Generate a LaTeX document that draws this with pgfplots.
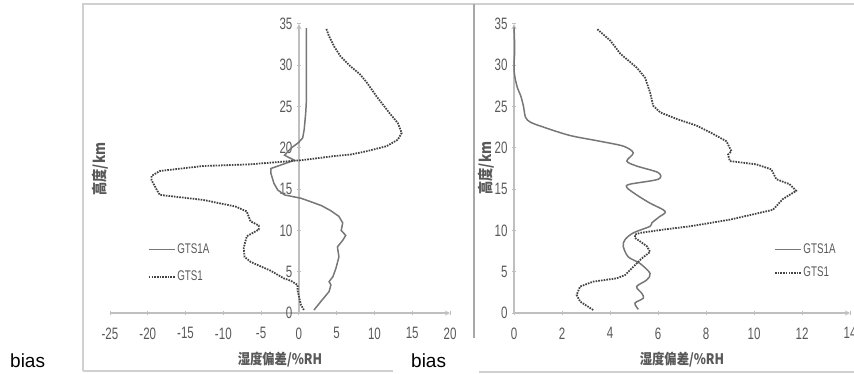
\documentclass[border=0pt]{standalone}
\usepackage{pgfplots}
\pgfplotsset{compat=1.18}
\usepackage{fontspec}
\setmainfont{Liberation Sans}
\newfontfamily\tickfont{Liberation Sans}[FakeStretch=0.7]
\newfontfamily\cjk{Noto Sans CJK SC}[FakeStretch=0.85]
\definecolor{tickgray}{HTML}{595959}
\definecolor{axgray}{HTML}{BFBFBF}
\definecolor{solidgray}{HTML}{777777}
\definecolor{dotgray}{HTML}{444444}
\definecolor{framegray}{HTML}{D0D0D0}
\definecolor{sepgray}{HTML}{A8A8A8}

\pgfplotstableread{
x y
2.0 0.36
3.0 1.5
4.0 2.6
4.24 3.4
4.0 3.8
4.5 4.4
4.9 5.4
5.3 6.8
5.1 8.0
5.8 8.8
6.2 9.4
5.6 10.0
5.8 10.9
5.3 11.7
4.2 12.4
3.0 13.0
1.5 13.5
0.26 13.9
-1.9 14.3
-2.8 14.9
-3.3 15.7
-3.7 16.9
-3.7 17.5
-0.6 18.5
-1.9 19.1
-1.5 19.5
-1.0 20.0
-0.1 20.6
0.5 21.2
0.7 22.2
0.9 24.2
1.0 25.8
1.0 29.8
1.0 34.5
}\leftA

\pgfplotstableread{
x y
0.66 0.36
0.26 1.0
-0.17 2.7
-0.17 3.4
-1.06 3.9
-2.0 4.2
-3.7 5.1
-6.4 6.2
-7.2 6.8
-7.3 7.9
-6.9 9.3
-5.3 10.1
-5.3 10.6
-6.4 11.1
-6.9 12.3
-8.4 12.9
-12.7 13.7
-18.4 14.3
-18.8 14.9
-19.5 16.1
-19.5 16.6
-18.4 17.2
-12.7 17.8
-6.6 18.0
0.3 18.5
4.65 19.0
6.9 19.2
9.0 19.6
11.6 20.2
13.1 21.0
13.6 21.8
13.1 23.0
12.0 24.2
10.3 26.2
9.0 27.9
8.1 28.9
6.8 29.9
5.5 31.1
4.65 32.3
4.0 33.5
3.6 34.5
}\leftB

\pgfplotstableread{
x y
5.18 0.45
5.04 1.2
5.39 1.8
5.32 2.4
5.11 3.2
5.53 4.0
5.67 4.8
5.25 6.0
4.76 6.8
4.55 8.1
4.63 8.9
4.97 9.7
5.67 10.5
5.74 10.9
6.08 11.7
6.29 12.1
6.22 12.5
5.67 13.3
5.11 14.3
4.70 15.2
4.83 15.6
6.01 16.2
6.01 17.0
5.11 17.8
4.70 18.4
4.97 19.4
4.56 20.2
3.58 20.8
2.33 21.5
1.24 22.5
0.69 23.1
0.48 23.7
0.39 25.1
0.28 26.3
0.14 27.3
0.03 28.7
0.0 29.9
0.03 32.0
0.0 34.6
}\rightA

\pgfplotstableread{
x y
3.30 0.36
2.75 1.4
2.61 2.2
2.75 3.2
3.30 3.8
4.28 4.2
4.63 4.6
4.97 5.6
5.32 6.6
5.67 7.4
5.53 8.1
5.04 9.1
5.04 9.5
5.25 9.7
6.22 10.1
7.33 10.5
8.99 11.3
10.79 12.5
11.2 13.8
11.76 14.8
11.48 15.6
10.93 16.2
10.72 17.4
10.1 18.0
8.99 18.4
8.92 19.2
9.06 19.6
8.85 20.8
8.16 21.9
7.6 22.7
6.78 23.5
6.09 24.3
5.8 25.1
5.67 26.7
5.46 28.5
5.12 29.7
4.43 31.4
4.01 33.0
3.46 34.4
}\rightB

\pgfplotsset{
  panel/.style={
    scale only axis,
    height=289pt,
    ymin=0, ymax=35,
    ytick={0,5,...,35},
    axis line style={-, draw=axgray, line width=1.3pt},
    xtick style={draw=axgray, line width=1pt},
    ytick style={draw=axgray, line width=1pt},
    xtick align=inside,
    ytick align=outside,
    major tick length=4pt,
    hide obscured x ticks=false,
    hide obscured y ticks=false,
    /pgf/number format/assume math mode=true,
    ticklabel style={font=\tickfont\fontsize{16.5}{16.5}\selectfont, text=tickgray},
    xticklabel style={yshift=-9pt},
    yticklabel style={xshift=-1pt},
    clip=false,
    legend cell align=left,
    legend image code/.code={\draw[##1] (0pt,0pt) -- (26pt,0pt);},
  },
  gA/.style={solidgray, line width=1.5pt},
  gB/.style={dotgray, line width=1.8pt, dash pattern=on 1.6pt off 1.1pt},
}

\begin{document}
\begin{tikzpicture}
\path[use as bounding box] (0pt,0pt) rectangle (854pt,373pt);
% frames
\draw[framegray, line width=1.8pt] (83pt,2pt) -- (83pt,369pt) -- (854pt,369pt);
\draw[framegray, line width=1.8pt] (83pt,2pt) -- (393pt,2pt);
\draw[framegray, line width=1.8pt] (479pt,1pt) -- (854pt,1pt);
\draw[sepgray, line width=2.6pt] (474pt,369pt) -- (474pt,35pt);

\begin{axis}[panel,
  at={(110pt,60pt)}, anchor=south west,
  width=340pt,
  xmin=-25, xmax=20,
  xtick={-25,-20,...,20},
  axis x line=bottom, axis y line=center,
  legend style={at={(axis cs:-20,8.6)}, anchor=north west, draw=none, fill=none,
    inner sep=0pt, row sep=13pt,
    nodes={inner sep=1.5pt, font=\tickfont\fontsize{14}{14}\selectfont, text=tickgray}},
]
\addplot[gA] table[x=x,y=y] {\leftA};
\addlegendentry{GTS1A}
\addplot[gB] table[x=x,y=y] {\leftB};
\addlegendentry{GTS1}
\end{axis}

\begin{axis}[panel,
  at={(514pt,60pt)}, anchor=south west,
  width=336pt,
  xmin=0, xmax=14,
  xtick={0,2,...,14},
  axis x line=bottom, axis y line=left,
  legend style={at={(axis cs:10.83,8.6)}, anchor=north west, draw=none, fill=none,
    inner sep=0pt, row sep=9pt,
    nodes={inner sep=1.5pt, font=\tickfont\fontsize{14}{14}\selectfont, text=tickgray}},
]
\addplot[gA, smooth, tension=0.5] table[x=x,y=y] {\rightA};
\addlegendentry{GTS1A}
\addplot[gB] table[x=x,y=y] {\rightB};
\addlegendentry{GTS1}
\end{axis}

% axis titles
\node[font=\cjk\bfseries\fontsize{14.5}{14.5}\selectfont, text=tickgray] at (280pt,13pt) {湿度偏差/\%RH};
\node[font=\cjk\bfseries\fontsize{14.5}{14.5}\selectfont, text=tickgray] at (682pt,13pt) {湿度偏差/\%RH};
\node[font=\cjk\bfseries\fontsize{15.5}{15.5}\selectfont, text=tickgray, rotate=90] at (100pt,204pt) {高度/km};
\node[font=\cjk\bfseries\fontsize{15.5}{15.5}\selectfont, text=tickgray, rotate=90] at (486pt,205pt) {高度/km};
% bias labels
\node[font=\fontsize{19}{19}\selectfont, anchor=base west, inner sep=0pt] at (10pt,6pt) {bias};
\node[font=\fontsize{19}{19}\selectfont, anchor=base west, inner sep=0pt] at (411pt,6pt) {bias};
\end{tikzpicture}
\end{document}
